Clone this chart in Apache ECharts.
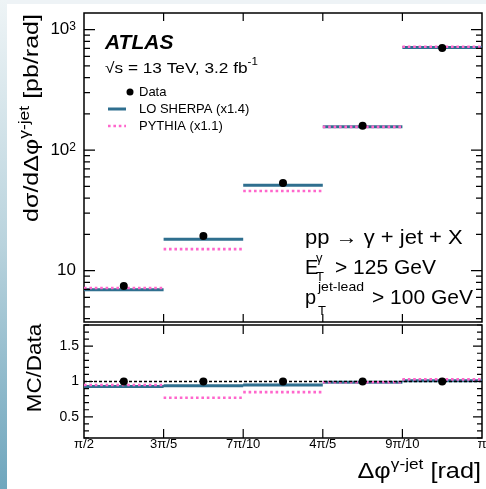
<!DOCTYPE html>
<html><head><meta charset="utf-8">
<script src="https://cdn.jsdelivr.net/npm/echarts@6/dist/echarts.min.js"></script>
<style>html,body{margin:0;padding:0;background:#fff}#c{width:486px;height:489px}</style>
</head><body><div id="c"></div>
<script>
// bin edges in units of pi/10
const binEdges = [5, 6, 7, 8, 9, 10];
const tickLabels = ['π/2', '3π/5', '7π/10', '4π/5', '9π/10', 'π'];
const dataXsec   = [7.45, 19.4, 53.3, 159, 703];
const sherpaXsec = [6.95, 18.2, 51.1, 156, 712];
const pythiaXsec = [7.18, 15.1, 45.8, 156, 720];
const dataRatio   = [1, 1, 1, 1, 1];
const sherpaRatio = [0.93, 0.94, 0.95, 0.99, 1.01];
const pythiaRatio = [0.95, 0.77, 0.85, 0.99, 1.03];

const FONT = '"Liberation Sans", Arial, sans-serif';
const BLUE = '#2f6f8f', PINK = '#ff66cc';
const X0 = binEdges[0], X1 = binEdges[binEdges.length - 1];
const UP = [3.75, 1374], LO = [0.2, 1.8];

function segs(vals) {
  const out = [];
  vals.forEach((v, i) => { out.push([binEdges[i], v], [binEdges[i + 1], v], [binEdges[i + 1], '-']); });
  return out;
}
function centers(vals) { return vals.map((v, i) => [(binEdges[i] + binEdges[i + 1]) / 2, v]); }

function upperTicks() {
  const t = [];
  for (let d = 1; d <= 1000; d *= 10) for (let k = 1; k <= 9; k++) {
    const v = k * d; if (v >= UP[0] && v <= UP[1]) t.push({ kind: 'y', v, len: k === 1 ? 11 : 6 });
  }
  for (let x = X0 + 1; x < X1; x++) t.push({ kind: 'x', v: x, len: 8 });
  return t;
}
function lowerTicks() {
  const t = [];
  for (let i = 2; i <= 18; i++) { const v = i / 10; t.push({ kind: 'y', v, len: (i % 5 === 0) ? 9 : 5 }); }
  for (let x = X0 + 1; x < X1; x++) t.push({ kind: 'x', v: x, len: 9 });
  return t;
}
function tickSeries(items, gi, yr) {
  return {
    type: 'custom', xAxisIndex: gi, yAxisIndex: gi, z: 10, silent: true,
    data: items.map(it => it.kind === 'y' ? [X0, it.v] : [it.v, yr[0]]),
    renderItem: (params, api) => {
      const it = items[params.dataIndex];
      let d;
      if (it.kind === 'y') {
        const a = api.coord([X0, it.v]), b = api.coord([X1, it.v]);
        d = 'M' + a[0] + ',' + a[1] + 'L' + (a[0] + it.len) + ',' + a[1] + 'M' + (b[0] - it.len) + ',' + b[1] + 'L' + b[0] + ',' + b[1];
      } else {
        const a = api.coord([it.v, yr[0]]), b = api.coord([it.v, yr[1]]);
        d = 'M' + a[0] + ',' + a[1] + 'L' + a[0] + ',' + (a[1] - it.len) + 'M' + b[0] + ',' + b[1] + 'L' + b[0] + ',' + (b[1] + it.len);
      }
      return { type: 'path', shape: { pathData: d }, style: { stroke: '#000', fill: null, lineWidth: 1.2 } };
    }
  };
}

function T(x, y, text, size, extra) {
  return Object.assign({ type: 'text', x, y, z: 100, style: Object.assign({
    text, fill: '#000', fontSize: size, fontFamily: FONT, align: 'left', verticalAlign: 'middle' }, extra && extra.style || {}) },
    extra && extra.el || {});
}
const supRich = (main, sup) => ({
  m: { fontSize: main, fontFamily: FONT, color: '#000', lineHeight: main + 8 },
  s: { fontSize: sup, fontFamily: FONT, color: '#000', verticalAlign: 'top', lineHeight: sup }
});

const chart = echarts.init(document.getElementById('c'), null, { renderer: 'canvas' });
chart.setOption({
  animation: false,
  backgroundColor: '#fff',
  grid: [
    { left: 84, right: 4, top: 13, height: 309, show: true, borderColor: '#000', borderWidth: 1.5, backgroundColor: 'transparent', outerBoundsMode: 'none', containLabel: false },
    { left: 84, right: 4, top: 325, height: 113, show: true, borderColor: '#000', borderWidth: 1.5, backgroundColor: 'transparent', outerBoundsMode: 'none', containLabel: false }
  ],
  xAxis: [
    { type: 'value', gridIndex: 0, min: X0, max: X1, interval: 1, axisLine: { show: false }, axisTick: { show: false }, axisLabel: { show: false }, splitLine: { show: false } },
    { type: 'value', gridIndex: 1, min: X0, max: X1, interval: 1, axisLine: { show: false }, axisTick: { show: false }, splitLine: { show: false },
      axisLabel: { show: true, margin: 0, color: '#000', fontSize: 13, fontFamily: FONT, formatter: v => tickLabels[Math.round(v) - X0] || '' } }
  ],
  yAxis: [
    { type: 'log', logBase: 10, gridIndex: 0, min: UP[0], max: UP[1], axisLine: { show: false }, axisTick: { show: false }, splitLine: { show: false },
      axisLabel: { show: true, margin: 8, color: '#000', fontSize: 17, fontFamily: FONT, showMinLabel: false, showMaxLabel: false,
        formatter: v => { const e = Math.round(Math.log10(v)); if (Math.abs(Math.pow(10, e) - v) / v > 1e-6) return ''; return e === 1 ? '10' : '10{s|' + e + '}'; },
        rich: { s: { fontSize: 12, fontFamily: FONT, color: '#000', verticalAlign: 'top', lineHeight: 12, padding: [0, 0, 8, 0] } } } },
    { type: 'value', gridIndex: 1, min: LO[0], max: LO[1], interval: 0.1, axisLine: { show: false }, axisTick: { show: false }, splitLine: { show: false },
      axisLabel: { show: true, margin: 5, color: '#000', fontSize: 14, fontFamily: FONT, showMinLabel: false, showMaxLabel: false,
        formatter: v => { for (const t of [0.5, 1, 1.5]) if (Math.abs(v - t) < 1e-6) return String(t); return ''; } } }
  ],
  series: [
    { name: 'LO SHERPA (x1.4)', type: 'line', xAxisIndex: 0, yAxisIndex: 0, data: segs(sherpaXsec), symbol: 'none', connectNulls: false, z: 2,
      lineStyle: { color: BLUE, width: 3 } },
    { name: 'PYTHIA (x1.1)', type: 'line', xAxisIndex: 0, yAxisIndex: 0, data: segs(pythiaXsec), symbol: 'none', connectNulls: false, z: 3,
      lineStyle: { color: PINK, width: 2.6, type: [2.6, 2.8] } },
    { name: 'Data', type: 'scatter', xAxisIndex: 0, yAxisIndex: 0, data: centers(dataXsec), symbol: 'circle', symbolSize: 8, z: 4,
      itemStyle: { color: '#000', opacity: 1 } },
    { name: 'LO SHERPA (x1.4)', type: 'line', xAxisIndex: 1, yAxisIndex: 1, data: segs(sherpaRatio), symbol: 'none', connectNulls: false, z: 2,
      lineStyle: { color: BLUE, width: 3 } },
    { name: 'PYTHIA (x1.1)', type: 'line', xAxisIndex: 1, yAxisIndex: 1, data: segs(pythiaRatio), symbol: 'none', connectNulls: false, z: 3,
      lineStyle: { color: PINK, width: 2.6, type: [2.6, 2.8] } },
    { name: 'Data', type: 'scatter', xAxisIndex: 1, yAxisIndex: 1, data: centers(dataRatio), symbol: 'circle', symbolSize: 8, z: 5,
      itemStyle: { color: '#000', opacity: 1 },
      markLine: { silent: true, symbol: 'none', label: { show: false }, z: 4,
        lineStyle: { color: '#000', type: [3, 2], width: 1.3 }, data: [{ yAxis: 1 }] } },
    tickSeries(upperTicks(), 0, UP),
    tickSeries(lowerTicks(), 1, LO)
  ],
  graphic: [
    { type: 'rect', shape: { x: 0, y: 0, width: 486, height: 4 }, style: { fill: '#eef3f6' }, z: 0 },
    { type: 'rect', shape: { x: 0, y: 0, width: 7, height: 489 }, z: 0,
      style: { fill: new echarts.graphic.LinearGradient(0, 0, 0, 1, [
        { offset: 0, color: '#eef4f6' }, { offset: 0.5, color: '#b9d3dd' }, { offset: 1, color: '#6fa6bd' }]) } },
    T(105, 43, 'ATLAS', 21, { style: { fontWeight: 'bold', fontStyle: 'italic' } }),
    T(105, 69, '{m|√s = 13 TeV, 3.2 fb}{s|-1}', 15, { el: { scaleX: 1.15 }, style: { rich: supRich(15, 10) } }),
    { type: 'circle', shape: { cx: 130, cy: 92, r: 3.5 }, style: { fill: '#000' }, z: 100 },
    T(139, 92, 'Data', 13),
    { type: 'line', shape: { x1: 108, y1: 109, x2: 126, y2: 109 }, style: { stroke: BLUE, lineWidth: 3 }, z: 100 },
    T(139, 109, 'LO SHERPA (x1.4)', 13),
    { type: 'line', shape: { x1: 108, y1: 126, x2: 126, y2: 126 }, style: { stroke: PINK, lineWidth: 2.6, lineDash: [2.6, 2.8] }, z: 100 },
    T(139, 126, 'PYTHIA (x1.1)', 13),
    T(305, 238, 'pp → γ + jet + X', 20, { el: { scaleX: 1.1 } }),
    T(305, 268, 'E', 20),
    T(316, 258, 'γ', 13),
    T(316, 277, 'T', 13),
    T(335, 268, '> 125 GeV', 20, { el: { scaleX: 1.05 } }),
    T(305, 298, 'p', 20),
    T(318, 287, 'jet-lead', 13, { el: { scaleX: 1.08 } }),
    T(318, 311, 'T', 13),
    T(372, 298, '> 100 GeV', 20, { el: { scaleX: 1.05 } }),
    T(32, 118, '{m|dσ/dΔφ}{s|γ-jet}{m| [pb/rad]}', 20, { el: { rotation: Math.PI / 2, scaleX: 1.25 }, style: { align: 'center', rich: supRich(20, 14) } }),
    T(35, 368, 'MC/Data', 21, { el: { rotation: Math.PI / 2, scaleX: 1.07 }, style: { align: 'center' } }),
    T(481, 472, '{m|Δφ}{s|γ-jet}{m| [rad]}', 22, { el: { scaleX: 1.15 }, style: { align: 'right', rich: supRich(22, 15) } })
  ]
});
</script></body></html>
